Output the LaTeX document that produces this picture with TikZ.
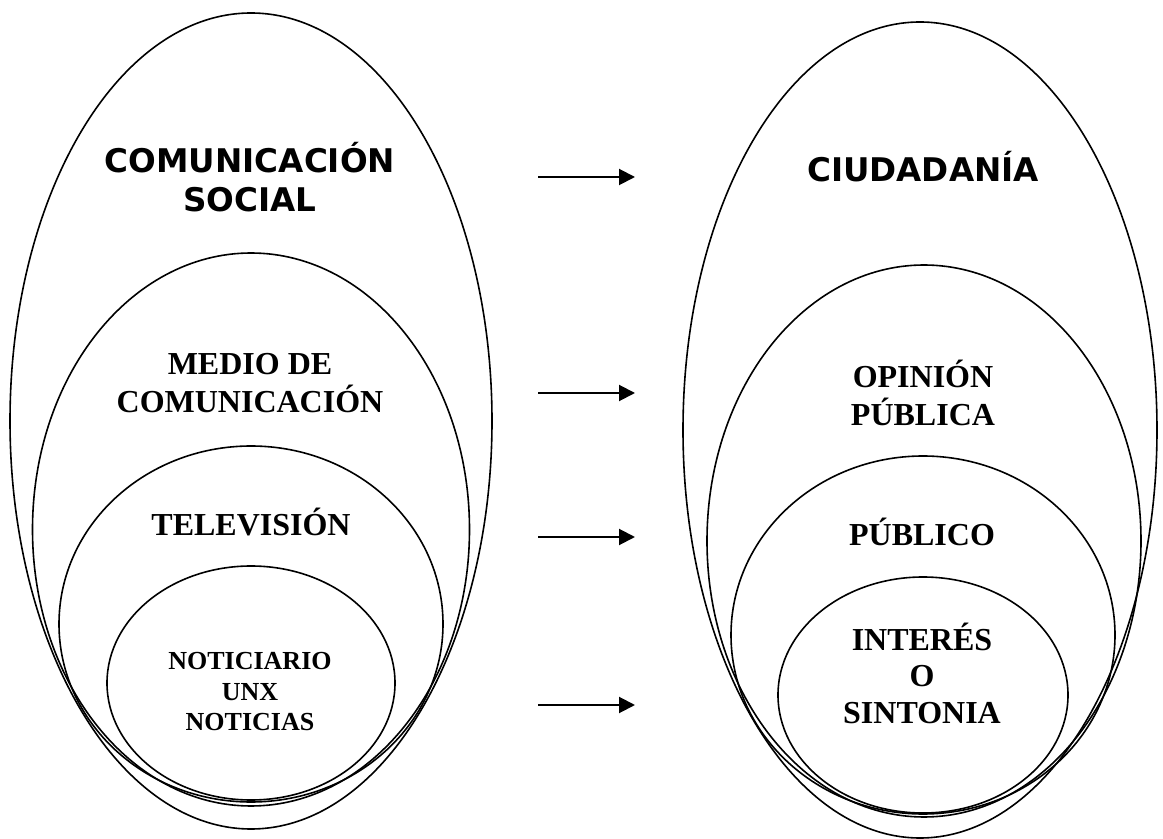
\documentclass[tikz,border=0pt]{standalone}
\usepackage{fontspec}
\setmainfont{Liberation Serif}
\newfontfamily\verdanafont{DejaVu Sans}
\usetikzlibrary{arrows.meta,shapes.geometric}

\begin{document}
\begin{tikzpicture}[x=0.5pt,y=-0.5pt,
    ring/.style={draw,ellipse,line width=0.8pt,inner sep=0pt},
    flecha/.style={-{Triangle[length=8pt,width=8pt]},line width=1pt},
    titulo/.style={font=\verdanafont\bfseries\fontsize{16.3}{19.5}\selectfont,align=center},
    etiqueta/.style={font=\bfseries\fontsize{16}{19}\selectfont,align=center}]
    \useasboundingbox (0,0) rectangle (1163,839);

    % Comunicacion (izquierda)
    \node[ring,minimum width=241pt,minimum height=408pt] (social) at (251,421) {};
    \node[ring,minimum width=218.5pt,minimum height=276.5pt] (medio) at (251,529.5) {};
    \node[ring,minimum width=192pt,minimum height=178pt] (tele) at (251,624) {};
    \node[ring,minimum width=144pt,minimum height=117pt] (noticiario) at (251,683) {};

    \node[titulo] (tsocial) at (250,177) {COMUNICACIÓN\\SOCIAL};
    \node[etiqueta] (tmedio) at (250,383) {MEDIO DE\\COMUNICACIÓN};
    \node[etiqueta,anchor=base] (ttele) at (251,536) {TELEVISIÓN};
    \node[etiqueta,font=\bfseries\fontsize{13}{15.25}\selectfont] (tnoti) at (250,692) {NOTICIARIO\\UNX\\NOTICIAS};

    % Ciudadania (derecha)
    \node[ring,minimum width=237pt,minimum height=408pt] (ciudadania) at (920,430) {};
    \node[ring,minimum width=217pt,minimum height=276pt] (opinion) at (924,541) {};
    \node[ring,minimum width=192pt,minimum height=179pt] (publico) at (923,635) {};
    \node[ring,minimum width=145pt,minimum height=118pt] (interes) at (923,695) {};

    \node[titulo,anchor=base] (tciudad) at (923,182) {CIUDADANÍA};
    \node[etiqueta] (topinion) at (923,393) {OPINIÓN\\PÚBLICA};
    \node[etiqueta,anchor=base] (tpublico) at (922,546) {PÚBLICO};
    \node[etiqueta,font=\bfseries\fontsize{16}{18.25}\selectfont] (tinteres) at (922,673) {INTERÉS\\O\\SINTONIA};

    % Flechas
    \foreach \y [count=\i] in {177,393,537,705} {
        \coordinate (s\i) at (538,\y);
        \coordinate (t\i) at (635,\y);
        \draw[flecha] (s\i) -- (t\i);
    }
\end{tikzpicture}
\end{document}
